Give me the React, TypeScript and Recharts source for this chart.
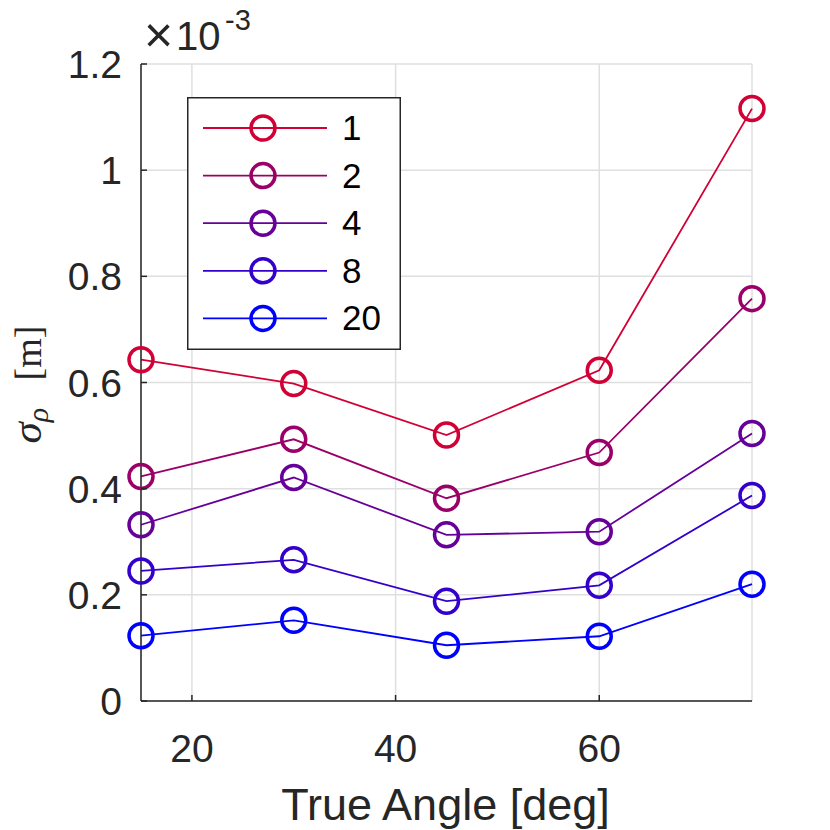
import React from 'react';
import { LineChart, Line, XAxis, YAxis, CartesianGrid, Legend } from 'recharts';

const angles = [15, 30, 45, 60, 75];
const seriesNames = ['1', '2', '4', '8', '20'];
const sigma1 = [0.643, 0.598, 0.501, 0.623, 1.116];
const sigma2 = [0.423, 0.493, 0.382, 0.468, 0.758];
const sigma4 = [0.332, 0.421, 0.313, 0.319, 0.504];
const sigma8 = [0.245, 0.266, 0.188, 0.218, 0.387];
const sigma20 = [0.123, 0.152, 0.105, 0.122, 0.22];
const seriesColors = ['#d10035', '#9a0068', '#660099', '#3300cc', '#0000ff'];
const xTicks = [20, 40, 60];
const yTicks = [0, 0.2, 0.4, 0.6, 0.8, 1, 1.2];

const seriesValues = [sigma1, sigma2, sigma4, sigma8, sigma20];
const data = angles.map((a, i) => {
  const row: Record<string, number> = { angle: a };
  seriesNames.forEach((n, k) => {
    row['s' + n] = seriesValues[k][i];
  });
  return row;
});

const SANS = "'Liberation Sans', Arial, Helvetica, sans-serif";
const SERIF = "'Liberation Serif', 'DejaVu Serif', serif";
const AXIS = '#262626';

const fmt = (v: number) => String(Number(v.toFixed(1)));

const XTick = (props: any) => {
  const { x, y, payload } = props;
  return (
    <g>
      <line x1={x} x2={x} y1={y} y2={y - 6} stroke={AXIS} strokeWidth={1.5} />
      <text x={x} y={y + 61} textAnchor="middle" fontSize={39} fill={AXIS} fontFamily={SANS}>
        {fmt(payload.value)}
      </text>
    </g>
  );
};

const YTick = (props: any) => {
  const { x, y, payload } = props;
  return (
    <g>
      <line x1={x} x2={x + 6} y1={y} y2={y} stroke={AXIS} strokeWidth={1.5} />
      <text x={x - 19} y={y + 14} textAnchor="end" fontSize={39} fill={AXIS} fontFamily={SANS}>
        {fmt(payload.value)}
      </text>
    </g>
  );
};

const XLabel = (props: any) => {
  const vb = props.viewBox;
  return (
    <text x={vb.x + vb.width / 2 - 1} y={vb.y + 119} textAnchor="middle" fontSize={45} fill={AXIS} fontFamily={SANS}>
      True Angle [deg]
    </text>
  );
};

const YLabel = (props: any) => {
  const vb = props.viewBox;
  const cy = vb.y + vb.height / 2;
  const right = vb.x + vb.width;
  return (
    <g>
      <g transform={`translate(41, ${cy + 61}) rotate(-90)`}>
        <text x={0} y={0} fontFamily={SERIF} fontSize={43} fill={AXIS}>
          <tspan fontStyle="italic">σ</tspan>
          <tspan fontStyle="italic" fontSize={30} dy={7}>ρ</tspan>
          <tspan x={63} dy={-7} fontSize={38}>[m]</tspan>
        </text>
      </g>
      <text x={right + 3} y={vb.y - 14} fontFamily={SANS} fontSize={40} fill={AXIS}>
        <tspan fontSize={50} dy={2}>×</tspan>
        <tspan x={right + 35} dy={-2}>10</tspan>
        <tspan x={right + 84} dy={-20} fontSize={29}>-3</tspan>
      </text>
    </g>
  );
};

const LegendBox = (props: any) => {
  const payload: any[] = props.payload || [];
  const items = seriesNames.map((n, k) => {
    const p = payload.find((e) => String(e.value) === n);
    return { name: n, color: p ? p.color : seriesColors[k] };
  });
  return (
    <svg width={214} height={253} style={{ display: 'block' }}>
      <rect x={0.75} y={0.75} width={212.5} height={251.5} fill="#ffffff" stroke={AXIS} strokeWidth={1.5} />
      {items.map((it, k) => {
        const cy = 31 + k * 47.6;
        return (
          <g key={it.name}>
            <line x1={16} x2={140} y1={cy} y2={cy} stroke={it.color} strokeWidth={1.8} />
            <circle cx={76} cy={cy} r={12} fill="none" stroke={it.color} strokeWidth={3.5} />
            <text x={155} y={cy + 12} fontSize={35} fontFamily={SANS} fill="#000000">
              {it.name}
            </text>
          </g>
        );
      })}
    </svg>
  );
};

export default function App() {
  return (
    <div style={{ position: 'absolute', left: 0, top: 0, width: 830, height: 830, background: '#ffffff' }}>
      <LineChart width={830} height={830} data={data} margin={{ top: 64, right: 78, left: 0, bottom: 0 }}>
        <CartesianGrid stroke="#dfdfdf" strokeWidth={1.5} />
        <XAxis
          dataKey="angle"
          type="number"
          domain={[15, 75]}
          ticks={xTicks}
          interval={0}
          tickSize={0}
          tickMargin={0}
          tickLine={false}
          axisLine={{ stroke: AXIS, strokeWidth: 1.5 }}
          height={129}
          tick={XTick}
          label={XLabel}
        />
        <YAxis
          type="number"
          domain={[0, 1.2]}
          ticks={yTicks}
          interval={0}
          tickSize={0}
          tickMargin={0}
          tickLine={false}
          axisLine={{ stroke: AXIS, strokeWidth: 1.5 }}
          width={141}
          tick={YTick}
          label={YLabel}
          allowDataOverflow
        />
        {seriesNames.map((n, k) => (
          <Line
            key={n}
            type="linear"
            dataKey={'s' + n}
            name={n}
            stroke={seriesColors[k]}
            strokeWidth={1.8}
            dot={{ r: 12, fill: 'none', stroke: seriesColors[k], strokeWidth: 3.5 }}
            activeDot={false}
            isAnimationActive={false}
          />
        ))}
        <Legend
          layout="vertical"
          align="center"
          verticalAlign="middle"
          wrapperStyle={{ left: 187, top: 97, width: 214, height: 253 }}
          content={LegendBox}
        />
      </LineChart>
    </div>
  );
}
